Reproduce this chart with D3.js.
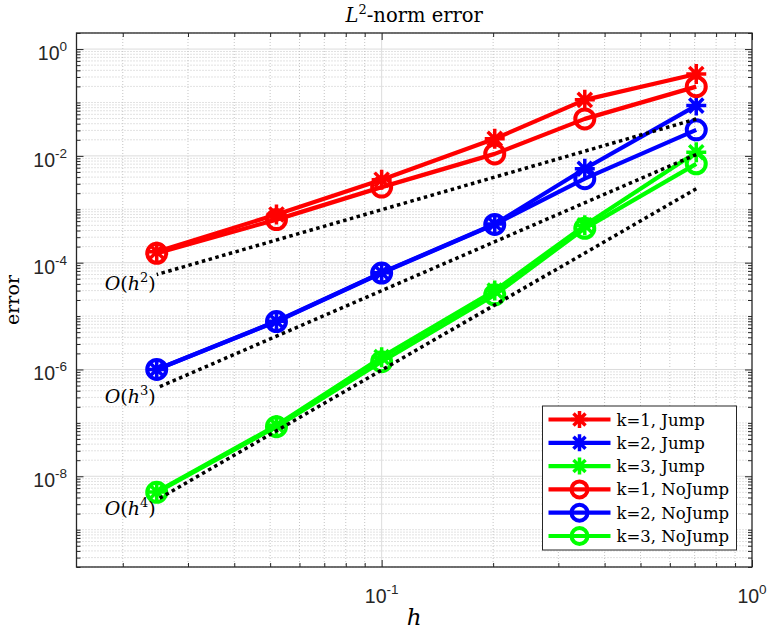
<!DOCTYPE html>
<html>
<head>
<meta charset="utf-8">
<script src="https://cdn.jsdelivr.net/npm/d3@7"></script>
<style>
  body { margin: 0; background: #fff; }
  svg { display: block; }
</style>
</head>
<body>
<div id="chart"></div>
<script>
// mesh sizes and errors
var hVals = [0.7071, 0.3536, 0.202, 0.1, 0.052, 0.0247];

var k1Jump   = [0.341, 0.112, 0.0209, 0.00358, 8.0e-4, 1.6e-4];
var k2Jump   = [0.0873, 0.00574, 5.3e-4, 6.5e-5, 8.0e-6, 1.0e-6];
var k3Jump   = [0.0117, 5.0e-4, 3.0e-5, 1.7e-6, 9.0e-8, 5.1e-9];
var k1NoJump = [0.198, 0.0493, 0.0109, 0.0026, 6.4e-4, 1.5e-4];
var k2NoJump = [0.0307, 0.00374, 5.2e-4, 6.4e-5, 7.9e-6, 1.0e-6];
var k3NoJump = [0.0071, 4.4e-4, 2.5e-5, 1.4e-6, 8.5e-8, 5.0e-9];

// reference slopes, end points at h = hVals[0] and hVals[5]
var refH  = [0.7071, 0.0247];
var refO2 = [0.049, 6.0e-5];
var refO3 = [0.0106, 4.5e-7];
var refO4 = [0.00243, 3.6e-9];
var refOrders = ["2", "3", "4"];

var legendLabels = ["k=1, Jump", "k=2, Jump", "k=3, Jump",
                    "k=1, NoJump", "k=2, NoJump", "k=3, NoJump"];

var xMajor = [0.1, 1];
var xMajorExp = ["-1", "0"];
var yMajor = [1, 1e-2, 1e-4, 1e-6, 1e-8];
var yMajorExp = ["0", "-2", "-4", "-6", "-8"];

var W = 769, H = 632;
var pL = 76.5, pR = 752, pT = 33, pB = 567;

var x = d3.scaleLog().domain([0.015, 1]).range([pL, pR]);
var y = d3.scaleLog().domain([2e-10, 2]).range([pB, pT]);

// minor tick values
var xMinor = [];
[0.01, 0.1].forEach(function(d) {
  for (var i = 2; i <= 9; i++) { var v = d * i; if (v >= 0.015 && v <= 1) xMinor.push(v); }
});
var yMinor = [];
for (var e = -10; e <= 0; e++) {
  for (var i = 1; i <= 9; i++) {
    var v = i * Math.pow(10, e);
    if (v < 2e-10 || v > 2) continue;
    if (i == 1 && e % 2 == 0) continue;   // labelled decades are major
    yMinor.push(v);
  }
}

var svg = d3.select("#chart").append("svg")
  .attr("width", W).attr("height", H);

var serif = "'DejaVu Serif', serif";
var sans = "'Liberation Sans', Arial, sans-serif";

// grid
var grid = svg.append("g");
grid.selectAll(".xminor").data(xMinor).enter().append("line")
  .attr("x1", function(d) { return x(d); }).attr("x2", function(d) { return x(d); })
  .attr("y1", pT).attr("y2", pB)
  .attr("stroke", "#c4c4c4").attr("stroke-width", 1).attr("stroke-dasharray", "1,2");
grid.selectAll(".yminor").data(yMinor).enter().append("line")
  .attr("x1", pL).attr("x2", pR)
  .attr("y1", function(d) { return y(d); }).attr("y2", function(d) { return y(d); })
  .attr("stroke", "#c4c4c4").attr("stroke-width", 1).attr("stroke-dasharray", "1,2");
grid.selectAll(".xmajor").data([0.1]).enter().append("line")
  .attr("x1", function(d) { return x(d); }).attr("x2", function(d) { return x(d); })
  .attr("y1", pT).attr("y2", pB)
  .attr("stroke", "#dcdcdc").attr("stroke-width", 1);
grid.selectAll(".ymajor").data(yMajor).enter().append("line")
  .attr("x1", pL).attr("x2", pR)
  .attr("y1", function(d) { return y(d); }).attr("y2", function(d) { return y(d); })
  .attr("stroke", "#dcdcdc").attr("stroke-width", 1);

// series
var series = [
  { values: k1Jump,   color: "#ff0000", marker: "star" },
  { values: k2Jump,   color: "#0000ff", marker: "star" },
  { values: k3Jump,   color: "#00ff00", marker: "star" },
  { values: k1NoJump, color: "#ff0000", marker: "circle" },
  { values: k2NoJump, color: "#0000ff", marker: "circle" },
  { values: k3NoJump, color: "#00ff00", marker: "circle" }
];

function starPath(s) {
  var d = s * 0.707;
  return "M0," + (-s) + "L0," + s + "M" + (-s) + ",0L" + s + ",0" +
    "M" + (-d) + "," + (-d) + "L" + d + "," + d +
    "M" + (-d) + "," + d + "L" + d + "," + (-d);
}

function drawMarker(g, m, color, cx, cy, size) {
  if (m == "star") {
    g.append("path").attr("d", starPath(size + 0.5))
      .attr("transform", "translate(" + cx + "," + cy + ")")
      .attr("fill", "none").attr("stroke", color).attr("stroke-width", 3.5);
  } else {
    g.append("circle").attr("cx", cx).attr("cy", cy).attr("r", size)
      .attr("fill", "none").attr("stroke", color).attr("stroke-width", 4);
  }
}

var line = d3.line()
  .x(function(d, i) { return x(hVals[i]); })
  .y(function(d) { return y(d); });

var plot = svg.append("g");
series.forEach(function(s) {
  var g = plot.append("g");
  g.append("path").datum(s.values).attr("d", line)
    .attr("fill", "none").attr("stroke", s.color).attr("stroke-width", 4.2)
    .attr("stroke-linejoin", "round");
  s.values.forEach(function(v, i) {
    drawMarker(g, s.marker, s.color, x(hVals[i]), y(v), 9.5);
  });
});

// reference slope lines
var refLine = d3.line()
  .x(function(d, i) { return x(refH[i]); })
  .y(function(d) { return y(d); });

[refO2, refO3, refO4].forEach(function(r, j) {
  plot.append("path").datum(r).attr("d", refLine)
    .attr("fill", "none").attr("stroke", "#000").attr("stroke-width", 3.5)
    .attr("stroke-dasharray", "3.5,3.5");
  var t = plot.append("text")
    .attr("x", x(refH[1]) - 1).attr("y", y(r[1]) + 15)
    .attr("text-anchor", "end")
    .attr("font-family", serif).attr("font-size", 19);
  t.append("tspan").attr("font-style", "italic").text("O");
  t.append("tspan").text("(");
  t.append("tspan").attr("font-style", "italic").text("h");
  t.append("tspan").attr("font-size", 13).attr("dy", -8).text(refOrders[j]);
  t.append("tspan").attr("dy", 8).text(")");
});

// axes box and ticks
var axes = svg.append("g");
axes.append("g").attr("transform", "translate(0," + pB + ")")
  .call(d3.axisBottom(x).tickValues(xMinor).tickSize(-4).tickFormat(""));
axes.append("g").attr("transform", "translate(0," + pB + ")")
  .call(d3.axisBottom(x).tickValues(xMajor).tickSize(-7).tickFormat(""));
axes.append("g").attr("transform", "translate(0," + pT + ")")
  .call(d3.axisTop(x).tickValues(xMinor).tickSize(-4).tickFormat(""));
axes.append("g").attr("transform", "translate(0," + pT + ")")
  .call(d3.axisTop(x).tickValues(xMajor).tickSize(-7).tickFormat(""));
axes.append("g").attr("transform", "translate(" + pL + ",0)")
  .call(d3.axisLeft(y).tickValues(yMinor).tickSize(-4).tickFormat(""));
axes.append("g").attr("transform", "translate(" + pL + ",0)")
  .call(d3.axisLeft(y).tickValues(yMajor).tickSize(-7).tickFormat(""));
axes.append("g").attr("transform", "translate(" + pR + ",0)")
  .call(d3.axisRight(y).tickValues(yMinor).tickSize(-4).tickFormat(""));
axes.append("g").attr("transform", "translate(" + pR + ",0)")
  .call(d3.axisRight(y).tickValues(yMajor).tickSize(-7).tickFormat(""));
axes.selectAll(".domain").remove();
axes.selectAll(".tick line").attr("stroke", "#262626");
axes.append("rect").attr("x", pL).attr("y", pT)
  .attr("width", pR - pL).attr("height", pB - pT)
  .attr("fill", "none").attr("stroke", "#262626").attr("stroke-width", 1.3);

// tick labels
xMajor.forEach(function(v, i) {
  var t = axes.append("text").attr("x", x(v)).attr("y", 603)
    .attr("text-anchor", "middle").attr("font-family", sans).attr("font-size", 19.5)
    .attr("fill", "#262626");
  t.append("tspan").text("10");
  t.append("tspan").attr("font-size", 13.5).attr("dy", -9).text(xMajorExp[i]);
});
yMajor.forEach(function(v, i) {
  var t = axes.append("text").attr("x", 67).attr("y", y(v) + 11)
    .attr("text-anchor", "end").attr("font-family", sans).attr("font-size", 19.5)
    .attr("fill", "#262626");
  t.append("tspan").text("10");
  t.append("tspan").attr("font-size", 13.5).attr("dy", -9).text(yMajorExp[i]);
});

// title and axis labels
var title = svg.append("text").attr("x", (pL + pR) / 2).attr("y", 22)
  .attr("text-anchor", "middle").attr("font-family", serif).attr("font-size", 19.5);
title.append("tspan").attr("font-style", "italic").text("L");
title.append("tspan").attr("font-size", 13).attr("dy", -8).text("2");
title.append("tspan").attr("dy", 8).text("-norm error");

svg.append("text").attr("x", (pL + pR) / 2).attr("y", 625)
  .attr("text-anchor", "middle").attr("font-family", serif).attr("font-size", 23)
  .attr("font-style", "italic").text("h");

svg.append("text")
  .attr("transform", "translate(19," + ((pT + pB) / 2) + ") rotate(-90)")
  .attr("text-anchor", "middle").attr("font-family", serif).attr("font-size", 19)
  .text("error");

// legend
var lg = svg.append("g");
var lgX = 542.5, lgY = 406, lgW = 194, lgH = 144, rowH = 23.3;
lg.append("rect").attr("x", lgX).attr("y", lgY).attr("width", lgW).attr("height", lgH)
  .attr("fill", "#fff").attr("stroke", "#262626").attr("stroke-width", 1);
series.forEach(function(s, i) {
  var cy = lgY + 13.5 + i * rowH;
  lg.append("line").attr("x1", lgX + 6).attr("x2", lgX + 68)
    .attr("y1", cy).attr("y2", cy)
    .attr("stroke", s.color).attr("stroke-width", 4.2);
  drawMarker(lg, s.marker, s.color, lgX + 37, cy, 8);
  lg.append("text").attr("x", lgX + 74).attr("y", cy + 6)
    .attr("font-family", serif).attr("font-size", 16.5)
    .text(legendLabels[i]);
});
</script>
</body>
</html>
